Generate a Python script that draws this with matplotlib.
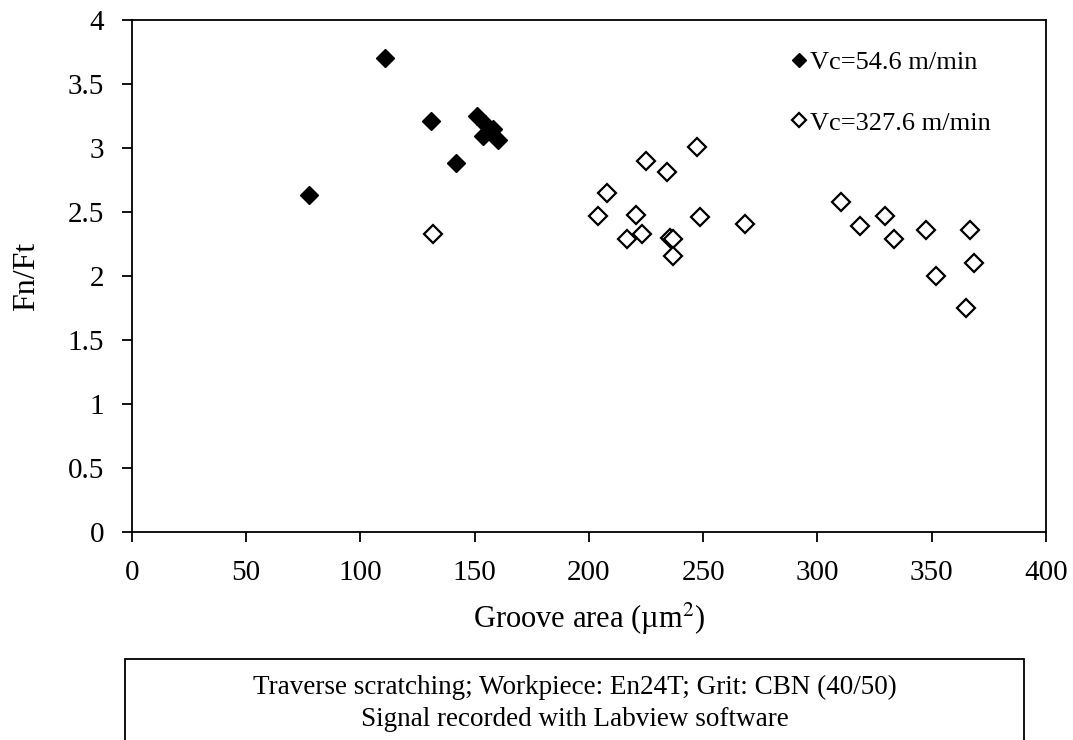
import matplotlib.pyplot as plt
from matplotlib.patches import Rectangle

plt.rcParams['font.family'] = ['Liberation Serif', 'DejaVu Serif']
plt.rcParams['mathtext.fontset'] = 'stix'

# Vc = 54.6 m/min (filled)
area_slow = [77.5, 110.7, 130.7, 141.8, 150.8, 154.5, 153.8, 158.1, 160.3]
ratio_slow = [2.63, 3.70, 3.21, 2.885, 3.25, 3.19, 3.09, 3.15, 3.06]

# Vc = 327.6 m/min (open)
area_fast = [131.9, 247.2, 224.9, 234.0, 207.9, 204.0, 220.6, 248.6, 268.2,
             223.1, 216.5, 235.5, 236.9, 236.6, 310.4, 318.5, 329.6, 333.5,
             347.4, 366.7, 368.7, 351.7, 364.9]
ratio_fast = [2.33, 3.01, 2.90, 2.81, 2.65, 2.47, 2.48, 2.46, 2.41,
              2.33, 2.29, 2.30, 2.29, 2.16, 2.58, 2.39, 2.47, 2.29,
              2.36, 2.36, 2.10, 2.00, 1.75]

fig = plt.figure(figsize=(10.73, 7.4), dpi=100)
ax = fig.add_axes([0.1230, 0.2811, 0.8518, 0.6919])

ax.plot(area_slow, ratio_slow, 'D', color='black', markersize=9.5,
        linestyle='none', label='Vc=54.6 m/min')
ax.plot(area_fast, ratio_fast, 'D', markerfacecolor='white', markeredgecolor='black',
        markeredgewidth=1.6, markersize=9.5, linestyle='none', label='Vc=327.6 m/min')

ax.set_xlim(0, 400)
ax.set_ylim(0, 4)
ax.set_xticks(range(0, 401, 50))
ax.set_yticks([0, 0.5, 1, 1.5, 2, 2.5, 3, 3.5, 4])
ax.set_yticklabels(['0', '0.5', '1', '1.5', '2', '2.5', '3', '3.5', '4'])
ax.tick_params(direction='out', length=7, width=1.3, labelsize=21, top=False, right=False)
ax.tick_params(axis='y', pad=13)
ax.tick_params(axis='x', pad=13)
for s in ax.spines.values():
    s.set_linewidth(1.3)

ax.set_xlabel('Groove area (µm$^{2}$)', fontsize=22, labelpad=11)
ax.set_ylabel('Fn/Ft', fontsize=23, labelpad=19)

leg = ax.legend(loc='upper left', bbox_to_anchor=(0.7225, 0.94), frameon=False,
                fontsize=19, markerscale=0.75, handlelength=0.5, handletextpad=0.17,
                labelspacing=1.4, borderaxespad=0, borderpad=0)

fig.patches.append(Rectangle((0.1165, -0.1), 0.838, 0.2095, transform=fig.transFigure,
                             fill=False, edgecolor='black', linewidth=1.3))
fig.text(0.5355, 1 - 687 / 740, 'Traverse scratching; Workpiece: En24T; Grit: CBN (40/50)',
         ha='center', va='center', fontsize=19.5)
fig.text(0.5355, 1 - 719 / 740, 'Signal recorded with Labview software',
         ha='center', va='center', fontsize=19.5)

fig.savefig('out.png', dpi=100)
